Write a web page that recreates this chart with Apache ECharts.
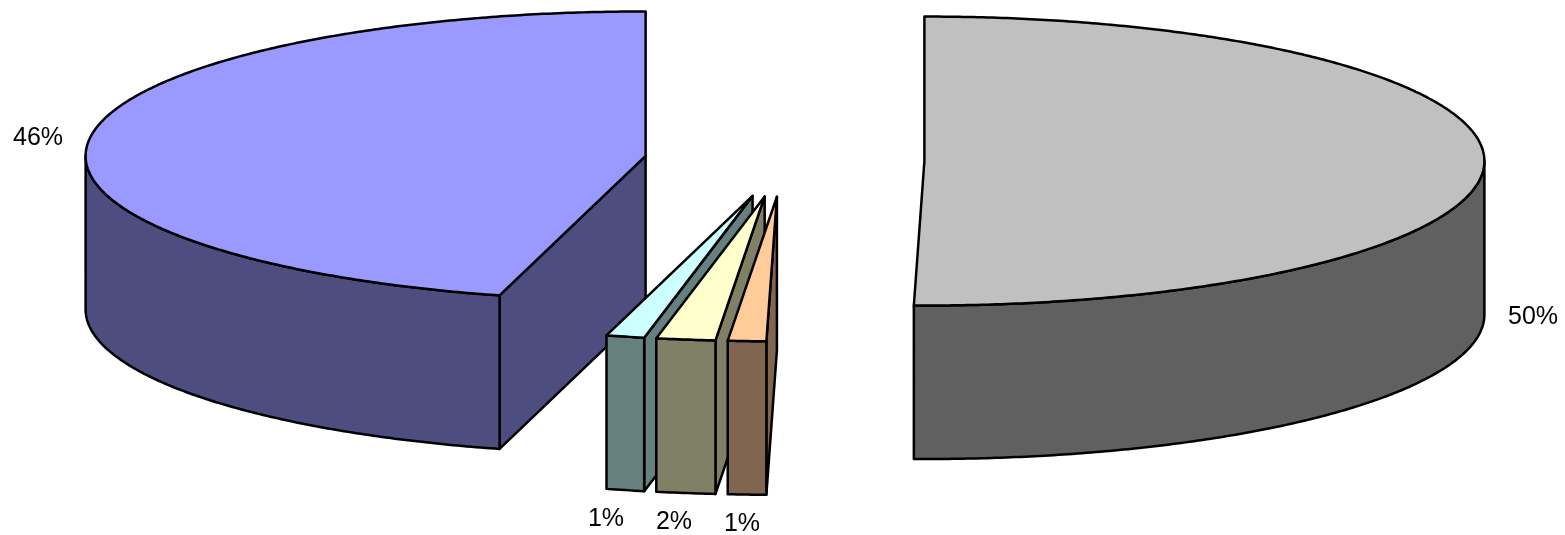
<!DOCTYPE html>
<html>
<head>
<meta charset="utf-8">
<style>html,body{margin:0;padding:0;background:#fff}#c{width:1565px;height:535px}</style>
<script src="https://cdn.jsdelivr.net/npm/echarts@6/dist/echarts.min.js"></script>
</head>
<body>
<div id="c"></div>
<script>
// Share of the circle per slice, clockwise from 12 o'clock
var sliceValues = [50.3, 1.1, 1.7, 1.1, 45.8];
var sliceLabels = ['50%', '1%', '2%', '1%', '46%'];
var topColors = ['#C0C0C0', '#FFCC99', '#FFFFCC', '#CCFFFF', '#9999FF'];
var wallColors = ['#606060', '#806650', '#808066', '#668080', '#4D4D80'];
var labelCentres = [[1533, 317], [742, 524], [674, 522], [606, 519], [38, 138]];
var drawOrder = [4, 0, 3, 2, 1];

var pie = { cx: 784.4, cy: 160.7, rx: 560, ry: 144.5, depth: 153.5, explode: 0.25 };
var total = sliceValues.reduce(function (a, b) { return a + b; }, 0);
var RAD = Math.PI / 180;

function startAngle(idx) {
  var s = 0;
  for (var i = 0; i < idx; i++) s += sliceValues[i];
  return s / total * 360;
}
function rim(apex, deg) {
  return [apex[0] + pie.rx * Math.sin(deg * RAD), apex[1] - pie.ry * Math.cos(deg * RAD)];
}
function arc(apex, a, b) {
  var n = Math.max(2, Math.ceil(Math.abs(b - a) * 2)), pts = [];
  for (var i = 0; i <= n; i++) pts.push(rim(apex, a + (b - a) * i / n));
  return pts;
}
function down(p) { return [p[0], p[1] + pie.depth]; }

function renderSlice(params, api) {
  var idx = api.value(0);
  var a0 = startAngle(idx);
  var a1 = a0 + api.value(1) / total * 360;
  var mid = (a0 + a1) / 2;
  var apex = [
    pie.cx + pie.explode * pie.rx * Math.sin(mid * RAD),
    pie.cy - pie.explode * pie.ry * Math.cos(mid * RAD)
  ];
  function poly(pts, fill) {
    return {
      type: 'polygon',
      shape: { points: pts },
      style: { fill: fill, stroke: '#000', lineWidth: 2.5, lineJoin: 'round' }
    };
  }
  function cutWall(deg) {
    var r = rim(apex, deg);
    return poly([apex, r, down(r), down(apex)], wallColors[idx]);
  }
  var children = [];
  if (Math.sin(a0 * RAD) < -1e-6) children.push(cutWall(a0));
  if (Math.sin(a1 * RAD) > 1e-6) children.push(cutWall(a1));
  var f0 = Math.max(a0, 90), f1 = Math.min(a1, 270);
  if (f1 > f0) {
    var upper = arc(apex, f0, f1);
    children.push(poly(upper.concat(upper.map(down).reverse()), wallColors[idx]));
  }
  children.push(poly([apex].concat(arc(apex, a0, a1)), topColors[idx]));
  children.push({
    type: 'text',
    style: {
      text: sliceLabels[idx],
      x: labelCentres[idx][0],
      y: labelCentres[idx][1],
      fill: '#000',
      font: '25px "Liberation Sans", Arial, sans-serif',
      textAlign: 'center',
      textVerticalAlign: 'middle'
    }
  });
  return { type: 'group', children: children };
}

var chart = echarts.init(document.getElementById('c'), null, { renderer: 'canvas' });
chart.setOption({
  animation: false,
  backgroundColor: '#fff',
  series: [{
    type: 'custom',
    coordinateSystem: 'none',
    clip: false,
    silent: true,
    renderItem: renderSlice,
    data: drawOrder.map(function (i) { return [i, sliceValues[i]]; })
  }]
});
</script>
</body>
</html>
